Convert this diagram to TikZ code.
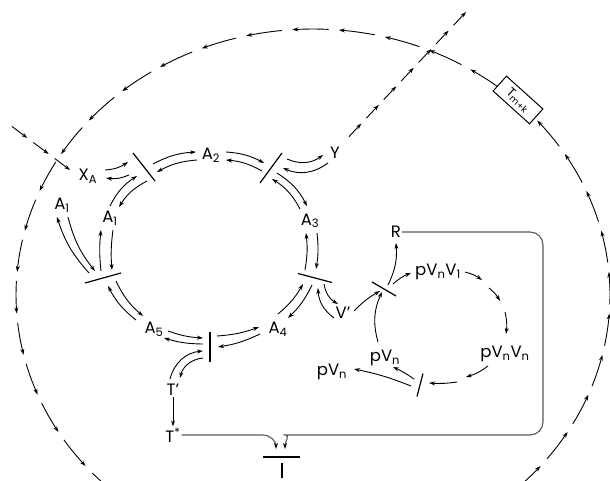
\documentclass[tikz,border=0pt]{standalone}
\usepackage{fontspec}
\setmainfont{Poppins}
\usetikzlibrary{arrows.meta,calc}

\begin{document}
\begin{tikzpicture}[x=1pt,y=-1pt,
    etichetta/.style={font=\fontsize{16.5}{16.5}\selectfont, inner sep=1pt},
    freccia/.style={-{Stealth[length=6pt,width=4pt]}, line width=0.9pt},
    barra/.style={line width=1.2pt},
    grigio/.style={-{Stealth[length=6pt,width=4pt,black]}, line width=1.1pt, black!65}]

        % Area del disegno
        \useasboundingbox (0,0) rectangle (610,481);
        \clip (0,0) rectangle (610,481);

        % Etichette dell'anello
        \node[etichetta] (XA) at (88,176) {X\textsubscript{A}};
        \node[etichetta] (A1o) at (62,205) {A\textsubscript{1}};
        \node[etichetta] (A1i) at (110,218) {A\textsubscript{1}};
        \node[etichetta] (A2) at (211,155) {A\textsubscript{2}};
        \node[etichetta] (Y) at (335,153) {Y};
        \node[etichetta] (A3) at (310,221) {A\textsubscript{3}};
        \node[etichetta] (Vp) at (343,313) {V'};
        \node[etichetta] (A4) at (278,329) {A\textsubscript{4}};
        \node[etichetta] (A5) at (154,329) {A\textsubscript{5}};
        \node[etichetta] (Tp) at (173,390) {T'};
        \node[etichetta] (Ts) at (173,435) {T\textsuperscript{*}};

        % Etichette del ciclo a destra
        \node[etichetta] (R) at (396,232) {R};
        \node[etichetta] (pVnV1) at (438,272) {pV\textsubscript{n}V\textsubscript{1}};
        \node[etichetta] (pVnVn) at (505,354) {pV\textsubscript{n}V\textsubscript{n}};
        \node[etichetta] (pVn1) at (385,358) {pV\textsubscript{n}};
        \node[etichetta] (pVn2) at (332,372) {pV\textsubscript{n}};

        % Centri delle barre
        \coordinate (bNW) at (144,167);
        \coordinate (bNE) at (271,168);
        \coordinate (bW) at (103,278);
        \coordinate (bS) at (210,347);
        \coordinate (bE) at (315,278);
        \coordinate (bV) at (384,289);
        \coordinate (bP) at (420,385);
        \coordinate (bT) at (282,457);

        % Barre
        \draw[barra] ($(bNW)+(-11,-14)$) -- ($(bNW)+(11,14)$);
        \draw[barra] ($(bNE)+(-11,15)$) -- ($(bNE)+(11,-15)$);
        \draw[barra] ($(bW)+(-18,5)$) -- ($(bW)+(18,-5)$);
        \draw[barra] ($(bS)+(0,-15)$) -- ($(bS)+(0,15)$);
        \draw[barra] ($(bE)+(-17,-4.5)$) -- ($(bE)+(17,4.5)$);
        \draw[barra] ($(bV)+(-12,-7)$) -- ($(bV)+(12,7)$);
        \draw[barra] ($(bP)+(-3,11.5)$) -- ($(bP)+(3,-11.5)$);
        \draw[barra] ($(bT)+(-19,0)$) -- ($(bT)+(18,0)$);
        \draw[barra] ($(bT)+(0,6)$) -- ($(bT)+(0,21)$);

        % Coppie di frecce dell'anello
        \draw[freccia] ($(XA)+(17,-6)$) to[bend right=15] ($(bNW)+(-16,-5)$);
        \draw[freccia] ($(bNW)+(-15,8)$) to[bend left=15] ($(XA)+(18,2)$);
        \draw[freccia] ($(bNW)+(9,-3)$) to[bend left=12] ($(A2)+(-15,-3)$);
        \draw[freccia] ($(A2)+(-14,5)$) to[bend right=12] ($(bNW)+(13,5)$);
        \draw[freccia] ($(A2)+(15,-3)$) to[bend left=12] ($(bNE)+(-7,-5)$);
        \draw[freccia] ($(bNE)+(-9,3)$) to[bend right=12] ($(A2)+(15,5)$);
        \draw[freccia] ($(bNE)+(16,-9)$) to[bend right=30] ($(Y)+(-12,2)$);
        \draw[freccia] ($(Y)+(-7,10)$) to[bend left=30] ($(bNE)+(12,0)$);
        \draw[freccia] ($(bNE)+(6,5)$) to[bend left=15] ($(A3)+(-3,-15)$);
        \draw[freccia] ($(A3)+(-10,-12)$) to[bend right=15] ($(bNE)+(1,11)$);
        \draw[freccia] ($(bE)+(-10,-8)$) to[bend right=8] ($(A3)+(-4,12)$);
        \draw[freccia] ($(A3)+(7,12)$) to[bend left=8] ($(bE)+(1,-9)$);
        \draw[freccia] ($(A4)+(0,-15)$) to[bend right=10] ($(bE)+(-12,6)$);
        \draw[freccia] ($(bE)+(-3,7)$) to[bend left=10] ($(A4)+(10,-11)$);
        \draw[freccia] ($(Vp)+(-9,5)$) to[bend left=25] ($(bE)+(3,10)$);
        \draw[freccia] ($(bE)+(9,6)$) to[bend right=25] ($(Vp)+(-5,-9)$);
        \draw[freccia] ($(bS)+(7,-11)$) to[bend right=8] ($(A4)+(-19,-2)$);
        \draw[freccia] ($(A4)+(-18,5)$) to[bend left=8] ($(bS)+(8,0)$);
        \draw[freccia] ($(A5)+(14,2)$) to[bend right=8] ($(bS)+(-7,-9)$);
        \draw[freccia] ($(bS)+(-7,-3)$) to[bend left=8] ($(A5)+(10,9)$);
        \draw[freccia] ($(Tp)+(-3,-11)$) to[bend left=35] ($(bS)+(-7,4)$);
        \draw[freccia] ($(bS)+(-7,11)$) to[bend right=35] ($(Tp)+(7,-12)$);
        \draw[freccia] (Tp.south) -- (Ts.north);
        \draw[freccia] ($(A5)+(-18,-9)$) to[bend left=12] ($(bW)+(5,8)$);
        \draw[freccia] ($(bW)+(13,3)$) to[bend right=12] ($(A5)+(-11,-13)$);
        \draw[freccia] ($(bW)+(-2,-7)$) to[bend left=6] ($(A1i)+(-9,12)$);
        \draw[freccia] ($(A1i)+(3,12)$) to[bend right=6] ($(bW)+(9,-8)$);
        \draw[freccia] ($(bW)+(-14,-5)$) to[bend left=12] ($(A1o)+(-5,12)$);
        \draw[freccia] ($(A1o)+(6,12)$) to[bend right=12] ($(bW)+(-8,-7)$);
        \draw[freccia] ($(A1i)+(0,-12)$) to[bend left=15] ($(bNW)+(-7,9)$);
        \draw[freccia] ($(bNW)+(3,14)$) to[bend right=15] ($(A1i)+(9,-11)$);

        % Ciclo a destra
        \draw[freccia] ($(Vp)+(11,-2)$) to[bend left=8] ($(bV)+(-4,2)$);
        \draw[freccia] ($(bV)+(4,-4)$) to[bend right=15] ($(R)+(0,11)$);
        \draw[freccia] ($(bV)+(9,-5)$) to[bend left=10] ($(pVnV1)+(-27,1)$);
        \draw[freccia] ($(pVn1)+(-7,-16)$) to[bend left=20] ($(bV)+(-2,3)$);
        \draw[freccia] ($(pVnV1)+(27,0)$) to[bend left=10] ($(pVnV1)+(44,8)$);
        \draw[freccia] ($(pVnV1)+(51,16)$) to[bend left=10] ($(pVnVn)+(-5,-53)$);
        \draw[freccia] ($(pVnVn)+(0,-42)$) to[bend left=10] ($(pVnVn)+(1,-20)$);
        \draw[freccia] ($(pVnVn)+(-17,12)$) to[bend left=10] ($(bP)+(46,-8)$);
        \draw[freccia] ($(bP)+(37,-3)$) to[bend left=6] ($(bP)+(9,-2)$);
        \draw[freccia] ($(bP)+(-6,-6)$) to[bend right=5] ($(pVn1)+(8,9)$);
        \draw[freccia] ($(bP)+(-9,1)$) to[bend right=5] ($(pVn2)+(22,-3)$);

        % Linee grigie verso la barra in basso
        \coordinate (cNE) at (543,232);
        \coordinate (cSE) at (543,435);
        \draw[grigio, rounded corners=13] (R.east) -- (cNE) -- (cSE) -- ($(bT)+(16,-22)$)
            [sharp corners] to[out=180,in=90] ($(bT)+(3,-8)$);
        \draw[grigio] (Ts.east) -- ($(bT)+(-19,-22)$) to[out=0,in=90] ($(bT)+(-6,-8)$);

        % Ingresso di X_A e uscita di Y (tratteggiate)
        \coordinate (xin) at (6,122);
        \coordinate (xae) at ($(XA)+(-18,-6)$);
        \foreach \k in {1,...,3}
            \draw[freccia] ($(xin)!{(\k-0.72)/3}!(xae)$) -- ($(xin)!{\k/3}!(xae)$);
        \coordinate (yin) at ($(Y)+(9,-11)$);
        \coordinate (yout) at (466,12);
        \foreach \k in {1,...,7}
            \draw[freccia] ($(yin)!{(\k-0.72)/7}!(yout)$) -- ($(yin)!{\k/7}!(yout)$);

        % Grande arco tratteggiato esterno
        \foreach \e [evaluate=\e as \st using \e+7] in {-41,-32,...,40}
            \draw[freccia] plot[domain=\st:\e, samples=6] ({313+297*cos(\x)},{295+266*sin(\x)});
        \foreach \s [evaluate=\s as \en using \s-7] in {-51,-60,...,-222}
            \draw[freccia] plot[domain=\s:\en, samples=6] ({313+297*cos(\x)},{295+266*sin(\x)});

        % Riquadro sull'arco
        \node[draw, rotate=-42, fill=white, line width=1pt, minimum width=49, minimum height=20,
              inner sep=1pt, font=\fontsize{13}{13}\selectfont] (Tmk) at (518,100) {T\textsubscript{m+k}};

\end{tikzpicture}
\end{document}
